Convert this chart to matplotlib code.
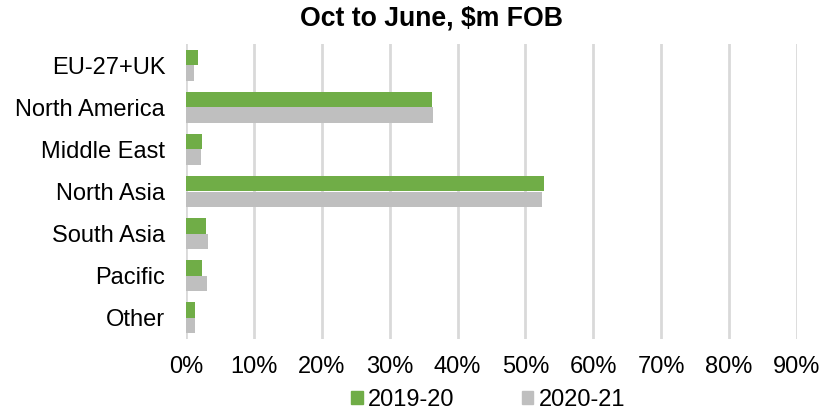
import matplotlib
matplotlib.use("Agg")
import matplotlib.pyplot as plt
import numpy as np
from matplotlib.ticker import PercentFormatter
from matplotlib.patches import Patch

categories = ["EU-27+UK", "North America", "Middle East", "North Asia", "South Asia", "Pacific", "Other"]
series_names = ["2019-20", "2020-21"]
values_1920 = [1.8, 36.2, 2.4, 52.7, 3.0, 2.3, 1.35]
values_2021 = [1.2, 36.4, 2.2, 52.5, 3.2, 3.1, 1.35]
xticks = [0, 10, 20, 30, 40, 50, 60, 70, 80, 90]
title = "Oct to June, $m FOB"

green = "#70AD47"
grey = "#BFBFBF"

plt.rcParams['font.family'] = ['Liberation Sans', 'DejaVu Sans']

fig = plt.figure(figsize=(8.22, 4.11), dpi=100)
ax = fig.add_axes([186/822, 1-339/411, (797-186)/822, (339-44)/411])

y = np.arange(len(categories))
h = 0.367
ax.barh(y - h/2, values_1920, height=h, color=green, zorder=3, label=series_names[0])
ax.barh(y + h/2, values_2021, height=h, color=grey, zorder=3, label=series_names[1])

ax.set_xlim(0, 90)
ax.set_ylim(len(categories) - 0.5, -0.5)
ax.set_yticks(y)
ax.set_yticklabels(categories)
ax.set_xticks(xticks)
ax.xaxis.set_major_formatter(PercentFormatter(decimals=0))
ax.tick_params(axis='both', length=0, labelsize=17, colors='#000000')
ax.tick_params(axis='x', pad=12)
ax.tick_params(axis='y', pad=15)
ax.grid(axis='x', color='#D9D9D9', linewidth=2, zorder=0)
for s in ax.spines.values():
    s.set_visible(False)

fig.text(431/822, 1-19/411, title, ha='center', va='center', fontsize=19.2, fontweight='bold')

handles = [Patch(color=green, label=series_names[0]), Patch(color=grey, label=series_names[1])]
fig.legend(handles=handles, loc='center', bbox_to_anchor=(488/822, 1-400/411), ncol=2,
           frameon=False, fontsize=17, handlelength=0.5, handleheight=0.5,
           handletextpad=0.22, columnspacing=2.85, borderpad=0)

fig.savefig("out.png", dpi=100)
